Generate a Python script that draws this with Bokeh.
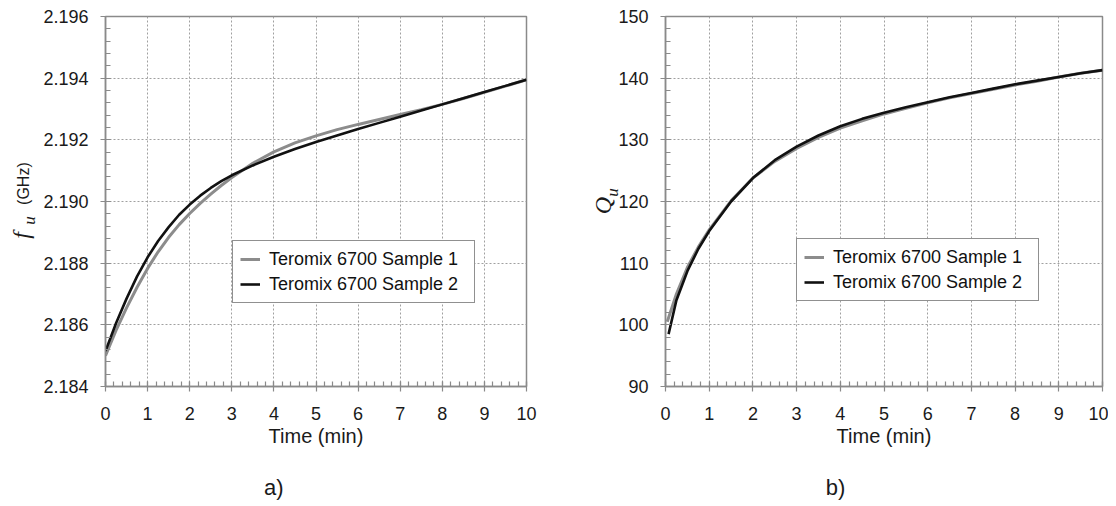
import math
from bokeh.plotting import figure
from bokeh.layouts import row
from bokeh.models import Label, Legend, LegendItem, FixedTicker, CustomJSTickFormatter
from bokeh.embed import file_html
from bokeh.resources import INLINE

# ---------------- data ----------------
time_a = [0, 0.25, 0.5, 0.75, 1, 1.25, 1.5, 1.75, 2, 2.25, 2.5, 2.75, 3, 3.5, 4, 4.5, 5, 5.5, 6, 6.5,
          7, 7.5, 8, 8.5, 9, 9.5, 10]
fu_sample1 = [2.18500, 2.18582, 2.18655, 2.18722, 2.18783, 2.18837, 2.18884, 2.18925, 2.18961, 2.18994,
              2.19024, 2.19052, 2.19078, 2.19124, 2.19161, 2.19190, 2.19213, 2.19233, 2.19250, 2.19266,
              2.19282, 2.19298, 2.19315, 2.19334, 2.19354, 2.19374, 2.19395]
fu_sample2 = [2.18515, 2.18605, 2.18685, 2.18757, 2.18819, 2.18872, 2.18917, 2.18957, 2.18990, 2.19019,
              2.19044, 2.19066, 2.19085, 2.19117, 2.19145, 2.19170, 2.19193, 2.19214, 2.19235, 2.19255,
              2.19275, 2.19295, 2.19315, 2.19335, 2.19355, 2.19375, 2.19395]

time_b1 = [0.04, 0.25, 0.5, 0.75, 1, 1.5, 2, 2.5, 3, 3.5, 4, 4.5, 5, 5.5, 6, 6.5, 7, 7.5, 8, 8.5, 9, 9.5, 10]
qu_sample1 = [100.5, 105.0, 109.3, 112.6, 115.4, 120.1, 123.8, 126.5, 128.6, 130.4, 131.9, 133.1, 134.2,
              135.1, 136.0, 136.8, 137.5, 138.2, 138.9, 139.5, 140.2, 140.8, 141.3]
time_b2 = [0.07, 0.25, 0.5, 0.75, 1, 1.5, 2, 2.5, 3, 3.5, 4, 4.5, 5, 5.5, 6, 6.5, 7, 7.5, 8, 8.5, 9, 9.5, 10]
qu_sample2 = [98.5, 104.0, 108.7, 112.3, 115.2, 120.0, 123.8, 126.7, 128.9, 130.7, 132.2, 133.4, 134.4,
              135.3, 136.1, 136.9, 137.6, 138.3, 139.0, 139.6, 140.2, 140.8, 141.3]

x_ticks = list(range(0, 11))
fu_ticks = [2.184, 2.186, 2.188, 2.190, 2.192, 2.194, 2.196]
qu_ticks = [90, 100, 110, 120, 130, 140, 150]
legend_names = ["Teromix 6700 Sample 1", "Teromix 6700 Sample 2"]
panel_tags = ["a)", "b)"]

GRAY_LINE = "#8c8c8c"
BLACK_LINE = "#111111"
AX = "#8a8a8a"
SANS = "Liberation Sans"
SERIF = "Liberation Serif"


def style(p, yticks, yfmt):
    p.outline_line_color = AX
    p.outline_line_width = 1.5
    p.background_fill_color = "white"
    p.border_fill_color = "white"
    p.xaxis.ticker = FixedTicker(ticks=x_ticks,
                                 minor_ticks=[i / 5 for i in range(0, 51)])
    p.yaxis.ticker = FixedTicker(ticks=yticks,
                                 minor_ticks=[yticks[0] + (yticks[1] - yticks[0]) * i / 5
                                              for i in range(0, 31)])
    for ax in (p.xaxis[0], p.yaxis[0]):
        ax.axis_line_color = AX
        ax.axis_line_width = 1.5
        ax.major_tick_line_color = AX
        ax.minor_tick_line_color = AX
        ax.major_tick_line_width = 1.2
        ax.minor_tick_line_width = 1.2
        ax.major_tick_in = 5
        ax.major_tick_out = 5
        ax.minor_tick_in = 5
        ax.minor_tick_out = 0
        ax.major_label_text_font = SANS
        ax.major_label_text_font_size = "18px"
        ax.major_label_text_color = "#1a1a1a"
        ax.axis_label_text_font = SANS
        ax.axis_label_text_font_size = "20px"
        ax.axis_label_text_font_style = "normal"
        ax.axis_label_text_color = "#1a1a1a"
    p.xaxis.major_label_standoff = 15
    p.yaxis.major_label_standoff = 12
    p.xaxis.axis_label = "Time (min)"
    p.xaxis.axis_label_standoff = 2
    p.yaxis.axis_label = None
    p.yaxis.formatter = CustomJSTickFormatter(code="return tick.toFixed(%d);" % yfmt)
    for g in (p.xgrid[0], p.ygrid[0]):
        g.grid_line_color = "#a0a0a0"
        g.grid_line_width = 1
        g.grid_line_dash = "2 2"


def add_legend(p, r1, r2, loc):
    leg = Legend(items=[LegendItem(label=legend_names[0], renderers=[r1]),
                        LegendItem(label=legend_names[1], renderers=[r2])],
                 location=loc)
    leg.border_line_color = "#222222"
    leg.border_line_width = 1.5
    leg.background_fill_alpha = 1
    leg.label_text_font = SANS
    leg.label_text_font_size = "18px"
    leg.label_text_color = "#111111"
    leg.glyph_width = 20
    leg.label_standoff = 9
    leg.padding = 7
    leg.spacing = 3
    leg.margin = 0
    leg.label_height = 22
    leg.glyph_height = 22
    leg.label_width = 198
    p.add_layout(leg, "center")


def text_label(x, y, text, font, size, italic=False, angle=0.0):
    return Label(x=x, y=y, x_units="data", y_units="data", text=text, angle=angle,
                 text_font=font, text_font_style="italic" if italic else "normal",
                 text_font_size=size, text_align="center", text_baseline="middle",
                 text_color="#1a1a1a")


# ---------------- panel a ----------------
pa = figure(width=566, height=504, x_range=(0, 10), y_range=(2.184, 2.196),
            output_backend="svg", toolbar_location=None,
            min_border_left=105, min_border_right=40, min_border_top=16, min_border_bottom=118)
style(pa, fu_ticks, 3)
ra1 = pa.line(time_a, fu_sample1, line_color=GRAY_LINE, line_width=3)
ra2 = pa.line(time_a, fu_sample2, line_color=BLACK_LINE, line_width=2.6)
add_legend(pa, ra1, ra2, (127, 83))

# axis title pieces (placed in side panels so they are not clipped by the frame)
pa.add_layout(text_label(-1.95, 2.19058, "(GHz)", SANS, "16px", False, math.pi / 2), "left")
pa.add_layout(text_label(-2.0, 2.18890, "f", SERIF, "24px", True, math.pi / 2), "below")
pa.add_layout(text_label(-1.80, 2.18938, "u", SERIF, "17px", True, math.pi / 2), "below")
pa.add_layout(text_label(4.0, 2.18072, panel_tags[0], SANS, "22px"), "below")

# ---------------- panel b ----------------
pb = figure(width=542, height=504, x_range=(0, 10), y_range=(90, 150),
            output_backend="svg", toolbar_location=None,
            min_border_left=99, min_border_right=6, min_border_top=16, min_border_bottom=118)
style(pb, qu_ticks, 0)
rb1 = pb.line(time_b1, qu_sample1, line_color=GRAY_LINE, line_width=3)
rb2 = pb.line(time_b2, qu_sample2, line_color=BLACK_LINE, line_width=2.6)
add_legend(pb, rb1, rb2, (131, 85))

pb.add_layout(text_label(-1.44, 119.35, "Q", SERIF, "24px", True, math.pi / 2), "left")
pb.add_layout(text_label(-1.21, 121.46, "u", SERIF, "17px", True, math.pi / 2), "below")
pb.add_layout(text_label(3.89, 73.62, panel_tags[1], SANS, "22px"), "below")

layout = row(pa, pb)
open("out.html", "w").write(file_html(layout, INLINE))
